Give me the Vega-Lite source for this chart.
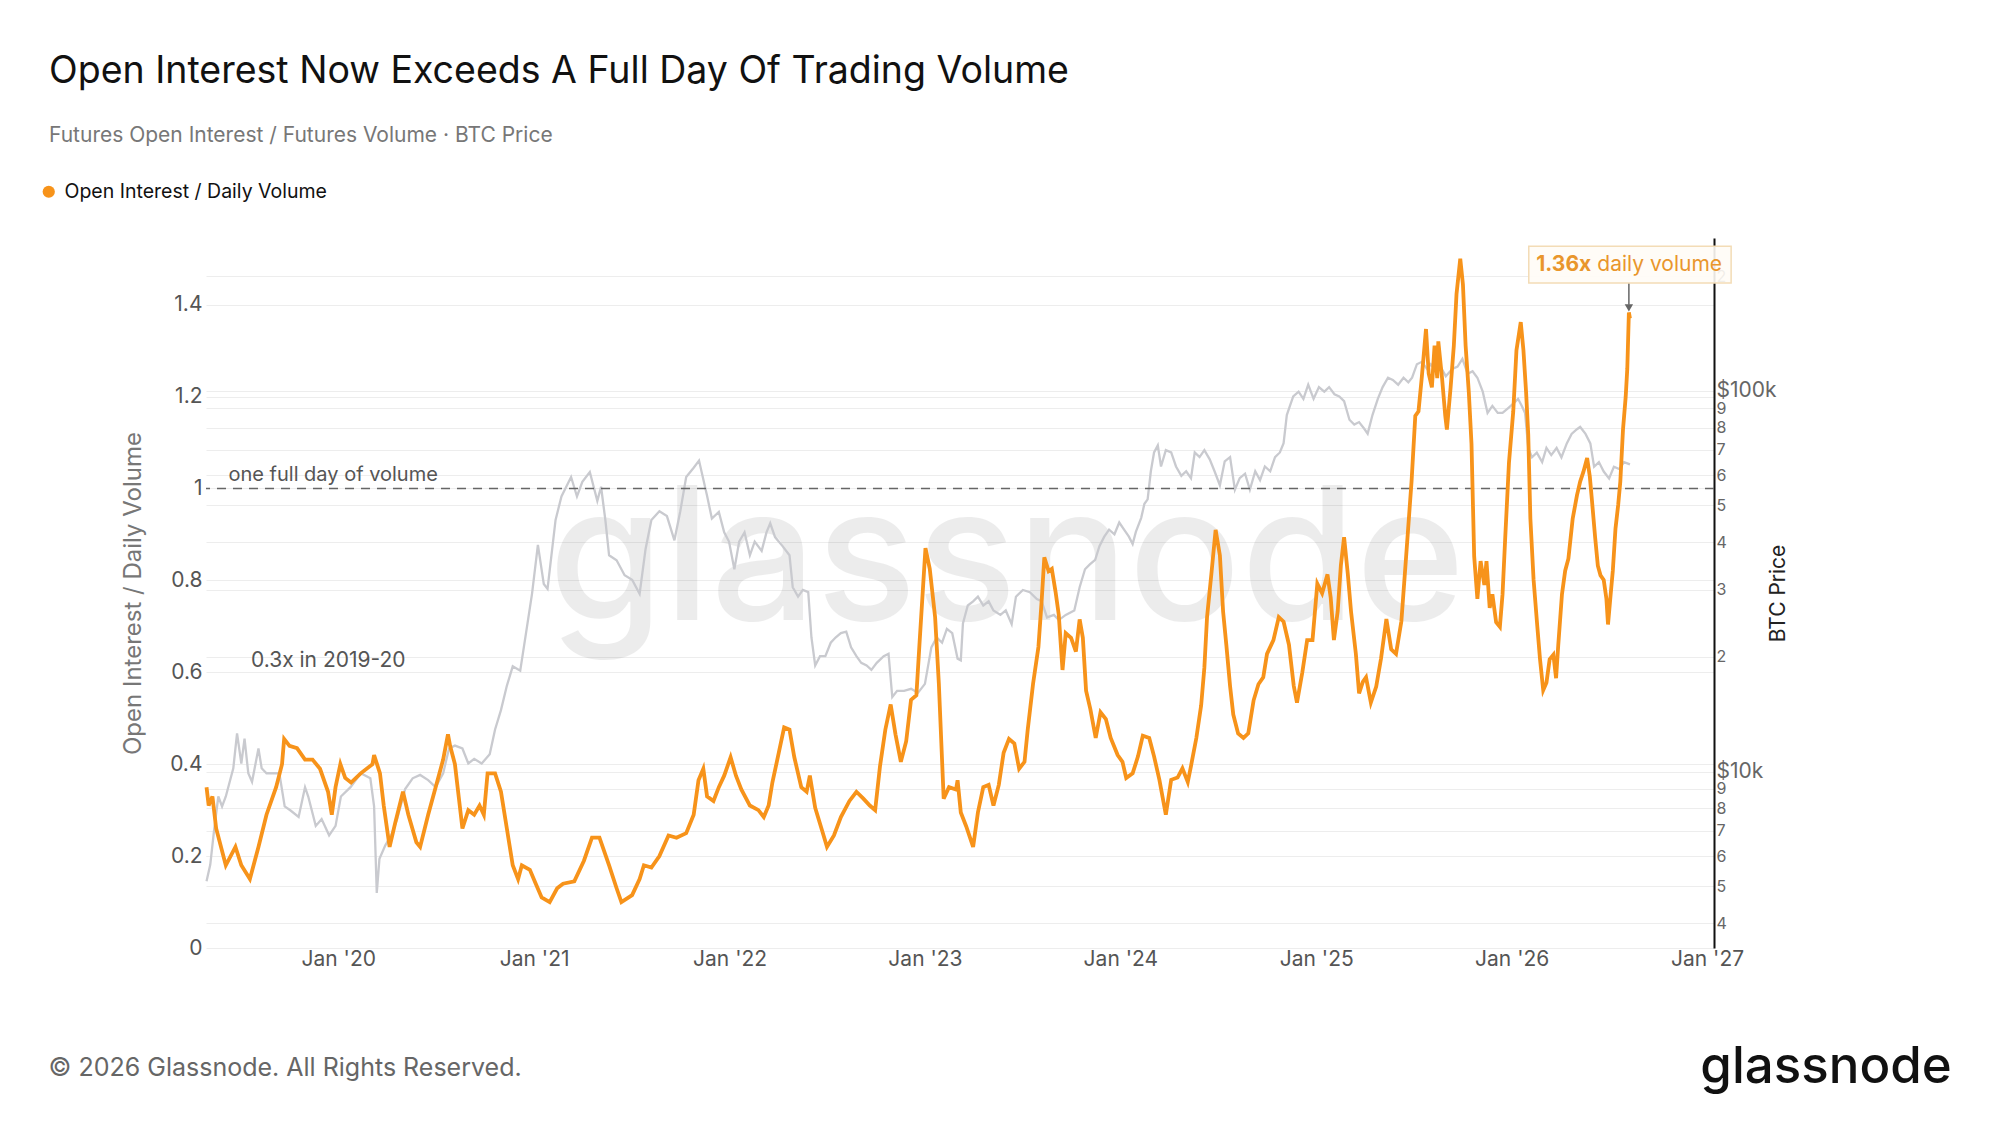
{
  "$schema": "https://vega.github.io/schema/vega-lite/v6.json",
  "width": 1508,
  "height": 710,
  "autosize": "none",
  "padding": {"left": 206, "top": 238, "right": 286, "bottom": 177},
  "background": "white",
  "title": {
    "text": "Open Interest Now Exceeds A Full Day Of Trading Volume",
    "subtitle": "Futures Open Interest / Futures Volume · BTC Price",
    "anchor": "start",
    "frame": "group",
    "dx": -157,
    "offset": 36,
    "font": "Inter",
    "fontSize": 37.5,
    "fontWeight": 400,
    "color": "#111111",
    "subtitleFont": "Inter",
    "subtitleFontSize": 21,
    "subtitleColor": "#777777",
    "subtitlePadding": 35
  },
  "datasets": {
    "oi": [
      {"date": "2019-04-30", "ratio": 0.35}, {"date": "2019-05-04", "ratio": 0.31}, {"date": "2019-05-11", "ratio": 0.33},
      {"date": "2019-05-18", "ratio": 0.26}, {"date": "2019-06-05", "ratio": 0.18}, {"date": "2019-06-23", "ratio": 0.22},
      {"date": "2019-07-04", "ratio": 0.18}, {"date": "2019-07-20", "ratio": 0.15}, {"date": "2019-08-05", "ratio": 0.22},
      {"date": "2019-08-20", "ratio": 0.29}, {"date": "2019-09-07", "ratio": 0.35}, {"date": "2019-09-18", "ratio": 0.40},
      {"date": "2019-09-22", "ratio": 0.455}, {"date": "2019-10-02", "ratio": 0.44}, {"date": "2019-10-16", "ratio": 0.435},
      {"date": "2019-10-31", "ratio": 0.41}, {"date": "2019-11-14", "ratio": 0.41}, {"date": "2019-11-28", "ratio": 0.39},
      {"date": "2019-12-13", "ratio": 0.34}, {"date": "2019-12-20", "ratio": 0.29}, {"date": "2019-12-27", "ratio": 0.35},
      {"date": "2020-01-05", "ratio": 0.40}, {"date": "2020-01-14", "ratio": 0.37}, {"date": "2020-01-25", "ratio": 0.36},
      {"date": "2020-02-12", "ratio": 0.38}, {"date": "2020-03-05", "ratio": 0.40}, {"date": "2020-03-08", "ratio": 0.42},
      {"date": "2020-03-19", "ratio": 0.38}, {"date": "2020-03-26", "ratio": 0.31}, {"date": "2020-04-06", "ratio": 0.22},
      {"date": "2020-04-16", "ratio": 0.27}, {"date": "2020-05-01", "ratio": 0.34}, {"date": "2020-05-11", "ratio": 0.29},
      {"date": "2020-05-26", "ratio": 0.23}, {"date": "2020-06-02", "ratio": 0.22}, {"date": "2020-06-17", "ratio": 0.29},
      {"date": "2020-07-01", "ratio": 0.35}, {"date": "2020-07-15", "ratio": 0.41}, {"date": "2020-07-24", "ratio": 0.465},
      {"date": "2020-07-28", "ratio": 0.44}, {"date": "2020-08-06", "ratio": 0.40}, {"date": "2020-08-13", "ratio": 0.33},
      {"date": "2020-08-20", "ratio": 0.26}, {"date": "2020-08-31", "ratio": 0.30}, {"date": "2020-09-11", "ratio": 0.29},
      {"date": "2020-09-21", "ratio": 0.31}, {"date": "2020-09-29", "ratio": 0.29}, {"date": "2020-10-06", "ratio": 0.38},
      {"date": "2020-10-20", "ratio": 0.38}, {"date": "2020-10-31", "ratio": 0.34}, {"date": "2020-11-11", "ratio": 0.26},
      {"date": "2020-11-22", "ratio": 0.18}, {"date": "2020-12-02", "ratio": 0.15}, {"date": "2020-12-09", "ratio": 0.18},
      {"date": "2020-12-24", "ratio": 0.17}, {"date": "2021-01-04", "ratio": 0.14}, {"date": "2021-01-15", "ratio": 0.11},
      {"date": "2021-01-30", "ratio": 0.10}, {"date": "2021-02-13", "ratio": 0.13}, {"date": "2021-02-24", "ratio": 0.14},
      {"date": "2021-03-17", "ratio": 0.145}, {"date": "2021-04-04", "ratio": 0.19}, {"date": "2021-04-19", "ratio": 0.24},
      {"date": "2021-05-03", "ratio": 0.24}, {"date": "2021-05-21", "ratio": 0.18}, {"date": "2021-06-04", "ratio": 0.13},
      {"date": "2021-06-13", "ratio": 0.10}, {"date": "2021-07-03", "ratio": 0.115}, {"date": "2021-07-17", "ratio": 0.15},
      {"date": "2021-07-25", "ratio": 0.18}, {"date": "2021-08-08", "ratio": 0.175}, {"date": "2021-08-23", "ratio": 0.20},
      {"date": "2021-09-09", "ratio": 0.245}, {"date": "2021-09-24", "ratio": 0.24}, {"date": "2021-10-12", "ratio": 0.25},
      {"date": "2021-10-26", "ratio": 0.29}, {"date": "2021-11-04", "ratio": 0.365}, {"date": "2021-11-13", "ratio": 0.39},
      {"date": "2021-11-20", "ratio": 0.33}, {"date": "2021-12-02", "ratio": 0.32}, {"date": "2021-12-12", "ratio": 0.35},
      {"date": "2021-12-22", "ratio": 0.375}, {"date": "2022-01-03", "ratio": 0.415}, {"date": "2022-01-13", "ratio": 0.375},
      {"date": "2022-01-23", "ratio": 0.345}, {"date": "2022-02-08", "ratio": 0.31}, {"date": "2022-02-24", "ratio": 0.30},
      {"date": "2022-03-06", "ratio": 0.285}, {"date": "2022-03-15", "ratio": 0.31}, {"date": "2022-03-22", "ratio": 0.36},
      {"date": "2022-04-03", "ratio": 0.425}, {"date": "2022-04-13", "ratio": 0.48}, {"date": "2022-04-23", "ratio": 0.475},
      {"date": "2022-05-02", "ratio": 0.415}, {"date": "2022-05-15", "ratio": 0.35}, {"date": "2022-05-25", "ratio": 0.34},
      {"date": "2022-05-31", "ratio": 0.375}, {"date": "2022-06-10", "ratio": 0.305}, {"date": "2022-06-23", "ratio": 0.255},
      {"date": "2022-07-02", "ratio": 0.22}, {"date": "2022-07-15", "ratio": 0.245}, {"date": "2022-07-28", "ratio": 0.285},
      {"date": "2022-08-13", "ratio": 0.32}, {"date": "2022-08-26", "ratio": 0.34}, {"date": "2022-09-08", "ratio": 0.325},
      {"date": "2022-09-20", "ratio": 0.31}, {"date": "2022-09-30", "ratio": 0.30}, {"date": "2022-10-09", "ratio": 0.395},
      {"date": "2022-10-19", "ratio": 0.475}, {"date": "2022-10-29", "ratio": 0.53}, {"date": "2022-11-07", "ratio": 0.465},
      {"date": "2022-11-17", "ratio": 0.405}, {"date": "2022-11-27", "ratio": 0.45}, {"date": "2022-12-06", "ratio": 0.54},
      {"date": "2022-12-16", "ratio": 0.55}, {"date": "2022-12-22", "ratio": 0.665}, {"date": "2023-01-02", "ratio": 0.87},
      {"date": "2023-01-10", "ratio": 0.825}, {"date": "2023-01-20", "ratio": 0.72}, {"date": "2023-01-27", "ratio": 0.575},
      {"date": "2023-02-05", "ratio": 0.325}, {"date": "2023-02-15", "ratio": 0.35}, {"date": "2023-02-28", "ratio": 0.345},
      {"date": "2023-03-03", "ratio": 0.365}, {"date": "2023-03-09", "ratio": 0.295}, {"date": "2023-03-19", "ratio": 0.265},
      {"date": "2023-04-01", "ratio": 0.22}, {"date": "2023-04-10", "ratio": 0.295}, {"date": "2023-04-20", "ratio": 0.35},
      {"date": "2023-04-30", "ratio": 0.355}, {"date": "2023-05-09", "ratio": 0.31}, {"date": "2023-05-19", "ratio": 0.355},
      {"date": "2023-05-28", "ratio": 0.425}, {"date": "2023-06-07", "ratio": 0.455}, {"date": "2023-06-17", "ratio": 0.445},
      {"date": "2023-06-26", "ratio": 0.39}, {"date": "2023-07-06", "ratio": 0.405}, {"date": "2023-07-12", "ratio": 0.475},
      {"date": "2023-07-22", "ratio": 0.575}, {"date": "2023-08-01", "ratio": 0.655}, {"date": "2023-08-07", "ratio": 0.755},
      {"date": "2023-08-12", "ratio": 0.85}, {"date": "2023-08-20", "ratio": 0.82}, {"date": "2023-08-26", "ratio": 0.825},
      {"date": "2023-09-02", "ratio": 0.775}, {"date": "2023-09-08", "ratio": 0.725}, {"date": "2023-09-15", "ratio": 0.605},
      {"date": "2023-09-21", "ratio": 0.685}, {"date": "2023-10-01", "ratio": 0.675}, {"date": "2023-10-10", "ratio": 0.645},
      {"date": "2023-10-17", "ratio": 0.715}, {"date": "2023-10-23", "ratio": 0.675}, {"date": "2023-10-29", "ratio": 0.56},
      {"date": "2023-11-06", "ratio": 0.52}, {"date": "2023-11-16", "ratio": 0.457}, {"date": "2023-11-25", "ratio": 0.513},
      {"date": "2023-12-05", "ratio": 0.498}, {"date": "2023-12-14", "ratio": 0.457}, {"date": "2023-12-27", "ratio": 0.42},
      {"date": "2024-01-05", "ratio": 0.405}, {"date": "2024-01-12", "ratio": 0.37}, {"date": "2024-01-24", "ratio": 0.38},
      {"date": "2024-02-03", "ratio": 0.417}, {"date": "2024-02-12", "ratio": 0.462}, {"date": "2024-02-24", "ratio": 0.457},
      {"date": "2024-03-04", "ratio": 0.417}, {"date": "2024-03-14", "ratio": 0.366}, {"date": "2024-03-26", "ratio": 0.29},
      {"date": "2024-04-05", "ratio": 0.366}, {"date": "2024-04-17", "ratio": 0.371}, {"date": "2024-04-26", "ratio": 0.391},
      {"date": "2024-05-06", "ratio": 0.361}, {"date": "2024-05-12", "ratio": 0.396}, {"date": "2024-05-22", "ratio": 0.457},
      {"date": "2024-05-31", "ratio": 0.528}, {"date": "2024-06-06", "ratio": 0.61}, {"date": "2024-06-11", "ratio": 0.72},
      {"date": "2024-06-19", "ratio": 0.813}, {"date": "2024-06-27", "ratio": 0.91}, {"date": "2024-07-05", "ratio": 0.854},
      {"date": "2024-07-11", "ratio": 0.732}, {"date": "2024-07-17", "ratio": 0.66}, {"date": "2024-07-24", "ratio": 0.57},
      {"date": "2024-07-30", "ratio": 0.508}, {"date": "2024-08-08", "ratio": 0.467}, {"date": "2024-08-18", "ratio": 0.457},
      {"date": "2024-08-27", "ratio": 0.467}, {"date": "2024-09-06", "ratio": 0.539}, {"date": "2024-09-15", "ratio": 0.574},
      {"date": "2024-09-24", "ratio": 0.589}, {"date": "2024-10-01", "ratio": 0.64}, {"date": "2024-10-13", "ratio": 0.67},
      {"date": "2024-10-23", "ratio": 0.72}, {"date": "2024-11-01", "ratio": 0.71}, {"date": "2024-11-11", "ratio": 0.66},
      {"date": "2024-11-20", "ratio": 0.57}, {"date": "2024-11-26", "ratio": 0.534}, {"date": "2024-12-06", "ratio": 0.60},
      {"date": "2024-12-15", "ratio": 0.67}, {"date": "2024-12-25", "ratio": 0.67}, {"date": "2025-01-03", "ratio": 0.793},
      {"date": "2025-01-12", "ratio": 0.772}, {"date": "2025-01-22", "ratio": 0.813}, {"date": "2025-01-28", "ratio": 0.762},
      {"date": "2025-02-03", "ratio": 0.67}, {"date": "2025-02-10", "ratio": 0.732}, {"date": "2025-02-16", "ratio": 0.833},
      {"date": "2025-02-22", "ratio": 0.894}, {"date": "2025-03-01", "ratio": 0.813}, {"date": "2025-03-07", "ratio": 0.732},
      {"date": "2025-03-16", "ratio": 0.64}, {"date": "2025-03-22", "ratio": 0.554}, {"date": "2025-03-29", "ratio": 0.579},
      {"date": "2025-04-04", "ratio": 0.589}, {"date": "2025-04-13", "ratio": 0.534}, {"date": "2025-04-23", "ratio": 0.569},
      {"date": "2025-05-02", "ratio": 0.63}, {"date": "2025-05-12", "ratio": 0.716}, {"date": "2025-05-21", "ratio": 0.65},
      {"date": "2025-05-30", "ratio": 0.64}, {"date": "2025-06-09", "ratio": 0.711}, {"date": "2025-06-18", "ratio": 0.854},
      {"date": "2025-06-28", "ratio": 1.015}, {"date": "2025-07-05", "ratio": 1.158}, {"date": "2025-07-11", "ratio": 1.168},
      {"date": "2025-07-17", "ratio": 1.24}, {"date": "2025-07-25", "ratio": 1.347}, {"date": "2025-07-30", "ratio": 1.25},
      {"date": "2025-08-05", "ratio": 1.22}, {"date": "2025-08-10", "ratio": 1.311}, {"date": "2025-08-15", "ratio": 1.24},
      {"date": "2025-08-17", "ratio": 1.32}, {"date": "2025-08-24", "ratio": 1.24}, {"date": "2025-08-30", "ratio": 1.158},
      {"date": "2025-09-02", "ratio": 1.128}, {"date": "2025-09-09", "ratio": 1.22}, {"date": "2025-09-15", "ratio": 1.311},
      {"date": "2025-09-20", "ratio": 1.423}, {"date": "2025-09-27", "ratio": 1.50}, {"date": "2025-10-02", "ratio": 1.444},
      {"date": "2025-10-07", "ratio": 1.311}, {"date": "2025-10-13", "ratio": 1.209}, {"date": "2025-10-18", "ratio": 1.097},
      {"date": "2025-10-23", "ratio": 0.852}, {"date": "2025-10-29", "ratio": 0.76}, {"date": "2025-11-04", "ratio": 0.842},
      {"date": "2025-11-11", "ratio": 0.79}, {"date": "2025-11-15", "ratio": 0.842}, {"date": "2025-11-21", "ratio": 0.74},
      {"date": "2025-11-26", "ratio": 0.77}, {"date": "2025-12-03", "ratio": 0.709}, {"date": "2025-12-10", "ratio": 0.699},
      {"date": "2025-12-15", "ratio": 0.77}, {"date": "2025-12-20", "ratio": 0.893}, {"date": "2025-12-27", "ratio": 1.056},
      {"date": "2026-01-04", "ratio": 1.168}, {"date": "2026-01-10", "ratio": 1.301}, {"date": "2026-01-18", "ratio": 1.362},
      {"date": "2026-01-23", "ratio": 1.301}, {"date": "2026-01-28", "ratio": 1.209}, {"date": "2026-02-01", "ratio": 1.117},
      {"date": "2026-02-05", "ratio": 0.934}, {"date": "2026-02-11", "ratio": 0.801}, {"date": "2026-02-18", "ratio": 0.699},
      {"date": "2026-02-23", "ratio": 0.628}, {"date": "2026-03-01", "ratio": 0.561}, {"date": "2026-03-07", "ratio": 0.577},
      {"date": "2026-03-13", "ratio": 0.628}, {"date": "2026-03-20", "ratio": 0.638}, {"date": "2026-03-25", "ratio": 0.587},
      {"date": "2026-03-29", "ratio": 0.658}, {"date": "2026-04-05", "ratio": 0.77}, {"date": "2026-04-11", "ratio": 0.821},
      {"date": "2026-04-17", "ratio": 0.847}, {"date": "2026-04-25", "ratio": 0.934}, {"date": "2026-05-03", "ratio": 0.985},
      {"date": "2026-05-09", "ratio": 1.015}, {"date": "2026-05-15", "ratio": 1.036}, {"date": "2026-05-22", "ratio": 1.066},
      {"date": "2026-05-27", "ratio": 1.026}, {"date": "2026-05-31", "ratio": 0.974}, {"date": "2026-06-06", "ratio": 0.893},
      {"date": "2026-06-11", "ratio": 0.832}, {"date": "2026-06-16", "ratio": 0.811}, {"date": "2026-06-22", "ratio": 0.801},
      {"date": "2026-06-27", "ratio": 0.76}, {"date": "2026-06-30", "ratio": 0.704}, {"date": "2026-07-05", "ratio": 0.77},
      {"date": "2026-07-09", "ratio": 0.821}, {"date": "2026-07-14", "ratio": 0.913}, {"date": "2026-07-19", "ratio": 0.964},
      {"date": "2026-07-23", "ratio": 1.015}, {"date": "2026-07-28", "ratio": 1.128}, {"date": "2026-08-02", "ratio": 1.199},
      {"date": "2026-08-05", "ratio": 1.26}, {"date": "2026-08-08", "ratio": 1.383}, {"date": "2026-08-10", "ratio": 1.37}
    ],
    "btc": [
      {"date": "2019-04-30", "price": 5150}, {"date": "2019-05-07", "price": 5700}, {"date": "2019-05-14", "price": 7000},
      {"date": "2019-05-22", "price": 8600}, {"date": "2019-05-29", "price": 8100}, {"date": "2019-06-05", "price": 8600},
      {"date": "2019-06-19", "price": 10200}, {"date": "2019-06-26", "price": 12600}, {"date": "2019-07-04", "price": 10500},
      {"date": "2019-07-10", "price": 12200}, {"date": "2019-07-17", "price": 9900}, {"date": "2019-07-24", "price": 9400},
      {"date": "2019-08-05", "price": 11500}, {"date": "2019-08-11", "price": 10200}, {"date": "2019-08-20", "price": 9900},
      {"date": "2019-09-02", "price": 9900}, {"date": "2019-09-13", "price": 9900}, {"date": "2019-09-23", "price": 8100},
      {"date": "2019-10-04", "price": 7900}, {"date": "2019-10-19", "price": 7600}, {"date": "2019-10-31", "price": 9100},
      {"date": "2019-11-06", "price": 8600}, {"date": "2019-11-20", "price": 7200}, {"date": "2019-12-01", "price": 7500},
      {"date": "2019-12-15", "price": 6800}, {"date": "2019-12-27", "price": 7200}, {"date": "2020-01-06", "price": 8600},
      {"date": "2020-01-24", "price": 9100}, {"date": "2020-02-12", "price": 9900}, {"date": "2020-03-01", "price": 9600},
      {"date": "2020-03-08", "price": 8100}, {"date": "2020-03-13", "price": 4800}, {"date": "2020-03-18", "price": 5900},
      {"date": "2020-03-29", "price": 6400}, {"date": "2020-04-09", "price": 6800}, {"date": "2020-04-20", "price": 7500},
      {"date": "2020-05-05", "price": 9000}, {"date": "2020-05-19", "price": 9600}, {"date": "2020-06-02", "price": 9800},
      {"date": "2020-06-17", "price": 9500}, {"date": "2020-07-01", "price": 9100}, {"date": "2020-07-15", "price": 9900},
      {"date": "2020-07-26", "price": 11500}, {"date": "2020-08-06", "price": 11700}, {"date": "2020-08-20", "price": 11500},
      {"date": "2020-08-31", "price": 10500}, {"date": "2020-09-11", "price": 10800}, {"date": "2020-09-25", "price": 10500},
      {"date": "2020-10-10", "price": 11100}, {"date": "2020-10-20", "price": 12900}, {"date": "2020-10-31", "price": 14500},
      {"date": "2020-11-11", "price": 16800}, {"date": "2020-11-22", "price": 18900}, {"date": "2020-12-06", "price": 18400},
      {"date": "2020-12-17", "price": 23200}, {"date": "2020-12-28", "price": 29300}, {"date": "2021-01-08", "price": 39400},
      {"date": "2021-01-19", "price": 31100}, {"date": "2021-01-26", "price": 30200}, {"date": "2021-02-10", "price": 45800},
      {"date": "2021-02-21", "price": 52800}, {"date": "2021-03-11", "price": 59400}, {"date": "2021-03-22", "price": 52800},
      {"date": "2021-04-01", "price": 57700}, {"date": "2021-04-15", "price": 61200}, {"date": "2021-04-29", "price": 51400},
      {"date": "2021-05-06", "price": 56000}, {"date": "2021-05-14", "price": 45800}, {"date": "2021-05-21", "price": 37000},
      {"date": "2021-06-04", "price": 35900}, {"date": "2021-06-19", "price": 32800}, {"date": "2021-07-03", "price": 31900},
      {"date": "2021-07-17", "price": 29300}, {"date": "2021-07-28", "price": 38300}, {"date": "2021-08-08", "price": 45800},
      {"date": "2021-08-23", "price": 48300}, {"date": "2021-09-06", "price": 46900}, {"date": "2021-09-20", "price": 40500},
      {"date": "2021-10-01", "price": 48300}, {"date": "2021-10-12", "price": 59400}, {"date": "2021-10-26", "price": 62800},
      {"date": "2021-11-05", "price": 65600}, {"date": "2021-11-20", "price": 53000}, {"date": "2021-11-29", "price": 46200},
      {"date": "2021-12-12", "price": 48100}, {"date": "2021-12-22", "price": 42500}, {"date": "2021-12-31", "price": 40200},
      {"date": "2022-01-10", "price": 34000}, {"date": "2022-01-19", "price": 40200}, {"date": "2022-01-29", "price": 42500},
      {"date": "2022-02-08", "price": 37000}, {"date": "2022-02-17", "price": 40200}, {"date": "2022-03-02", "price": 38000},
      {"date": "2022-03-11", "price": 42500}, {"date": "2022-03-18", "price": 44900}, {"date": "2022-03-27", "price": 41300},
      {"date": "2022-04-10", "price": 39100}, {"date": "2022-04-23", "price": 37000}, {"date": "2022-04-29", "price": 30500},
      {"date": "2022-05-09", "price": 28800}, {"date": "2022-05-18", "price": 30000}, {"date": "2022-05-28", "price": 29600},
      {"date": "2022-06-03", "price": 22500}, {"date": "2022-06-10", "price": 19000}, {"date": "2022-06-19", "price": 20100},
      {"date": "2022-06-29", "price": 20100}, {"date": "2022-07-09", "price": 21800}, {"date": "2022-07-18", "price": 22500},
      {"date": "2022-07-28", "price": 23100}, {"date": "2022-08-07", "price": 23300}, {"date": "2022-08-16", "price": 21200},
      {"date": "2022-08-26", "price": 20100}, {"date": "2022-09-04", "price": 19300}, {"date": "2022-09-14", "price": 19000},
      {"date": "2022-09-23", "price": 18500}, {"date": "2022-10-03", "price": 19300}, {"date": "2022-10-16", "price": 20100},
      {"date": "2022-10-25", "price": 20400}, {"date": "2022-11-01", "price": 15700}, {"date": "2022-11-10", "price": 16300},
      {"date": "2022-11-23", "price": 16300}, {"date": "2022-12-06", "price": 16500}, {"date": "2022-12-19", "price": 16100},
      {"date": "2023-01-01", "price": 17000}, {"date": "2023-01-13", "price": 21200}, {"date": "2023-01-23", "price": 22500},
      {"date": "2023-02-02", "price": 21800}, {"date": "2023-02-11", "price": 23700}, {"date": "2023-02-21", "price": 23100},
      {"date": "2023-03-03", "price": 19800}, {"date": "2023-03-09", "price": 19600}, {"date": "2023-03-13", "price": 24500},
      {"date": "2023-03-22", "price": 27300}, {"date": "2023-04-01", "price": 28000}, {"date": "2023-04-10", "price": 28800},
      {"date": "2023-04-20", "price": 27300}, {"date": "2023-04-30", "price": 28000}, {"date": "2023-05-09", "price": 26500},
      {"date": "2023-05-22", "price": 25800}, {"date": "2023-06-01", "price": 26500}, {"date": "2023-06-12", "price": 24400},
      {"date": "2023-06-20", "price": 28800}, {"date": "2023-07-03", "price": 30000}, {"date": "2023-07-16", "price": 29600},
      {"date": "2023-07-29", "price": 28400}, {"date": "2023-08-07", "price": 28000}, {"date": "2023-08-17", "price": 25400},
      {"date": "2023-08-30", "price": 25800}, {"date": "2023-09-08", "price": 25000}, {"date": "2023-09-21", "price": 25800},
      {"date": "2023-10-07", "price": 26500}, {"date": "2023-10-17", "price": 30500}, {"date": "2023-10-27", "price": 34000},
      {"date": "2023-11-05", "price": 35000}, {"date": "2023-11-15", "price": 36000}, {"date": "2023-11-23", "price": 39100},
      {"date": "2023-12-02", "price": 41400}, {"date": "2023-12-11", "price": 43200}, {"date": "2023-12-21", "price": 42000},
      {"date": "2023-12-30", "price": 45100}, {"date": "2024-01-08", "price": 43200}, {"date": "2024-01-17", "price": 41400},
      {"date": "2024-01-24", "price": 39600}, {"date": "2024-01-30", "price": 42600}, {"date": "2024-02-09", "price": 46400},
      {"date": "2024-02-15", "price": 50500}, {"date": "2024-02-21", "price": 51900}, {"date": "2024-02-27", "price": 61500},
      {"date": "2024-03-04", "price": 68900}, {"date": "2024-03-11", "price": 71900}, {"date": "2024-03-17", "price": 63300},
      {"date": "2024-03-26", "price": 69900}, {"date": "2024-04-05", "price": 68900}, {"date": "2024-04-14", "price": 63300},
      {"date": "2024-04-24", "price": 59800}, {"date": "2024-05-03", "price": 61500}, {"date": "2024-05-12", "price": 59000},
      {"date": "2024-05-19", "price": 68900}, {"date": "2024-05-28", "price": 67000}, {"date": "2024-06-06", "price": 69900},
      {"date": "2024-06-16", "price": 66100}, {"date": "2024-06-25", "price": 61500}, {"date": "2024-07-05", "price": 56500},
      {"date": "2024-07-14", "price": 65300}, {"date": "2024-07-24", "price": 67000}, {"date": "2024-08-02", "price": 55000},
      {"date": "2024-08-11", "price": 59000}, {"date": "2024-08-21", "price": 60600}, {"date": "2024-08-30", "price": 55000},
      {"date": "2024-09-09", "price": 61500}, {"date": "2024-09-18", "price": 58300}, {"date": "2024-09-27", "price": 63300},
      {"date": "2024-10-07", "price": 61500}, {"date": "2024-10-16", "price": 67000}, {"date": "2024-10-25", "price": 68900},
      {"date": "2024-11-01", "price": 72900}, {"date": "2024-11-07", "price": 86400}, {"date": "2024-11-13", "price": 91400},
      {"date": "2024-11-19", "price": 96700}, {"date": "2024-11-29", "price": 99500}, {"date": "2024-12-08", "price": 95300},
      {"date": "2024-12-17", "price": 103800}, {"date": "2024-12-27", "price": 95300}, {"date": "2025-01-06", "price": 102300},
      {"date": "2025-01-16", "price": 99500}, {"date": "2025-01-25", "price": 102300}, {"date": "2025-02-04", "price": 98000},
      {"date": "2025-02-13", "price": 96700}, {"date": "2025-02-22", "price": 94000}, {"date": "2025-03-04", "price": 84000},
      {"date": "2025-03-13", "price": 81600}, {"date": "2025-03-22", "price": 82800}, {"date": "2025-04-01", "price": 79400},
      {"date": "2025-04-07", "price": 77200}, {"date": "2025-04-16", "price": 86400}, {"date": "2025-04-26", "price": 95300},
      {"date": "2025-05-05", "price": 102300}, {"date": "2025-05-15", "price": 108300}, {"date": "2025-05-24", "price": 106800},
      {"date": "2025-06-03", "price": 103800}, {"date": "2025-06-13", "price": 108300}, {"date": "2025-06-22", "price": 105300},
      {"date": "2025-06-29", "price": 108300}, {"date": "2025-07-08", "price": 117500}, {"date": "2025-07-17", "price": 119200},
      {"date": "2025-07-27", "price": 114200}, {"date": "2025-08-03", "price": 117500}, {"date": "2025-08-12", "price": 112600},
      {"date": "2025-08-21", "price": 115800}, {"date": "2025-08-31", "price": 109300}, {"date": "2025-09-12", "price": 114200},
      {"date": "2025-09-22", "price": 115800}, {"date": "2025-10-01", "price": 121400}, {"date": "2025-10-11", "price": 110900},
      {"date": "2025-10-20", "price": 112600}, {"date": "2025-10-29", "price": 108300}, {"date": "2025-11-08", "price": 99500},
      {"date": "2025-11-17", "price": 87500}, {"date": "2025-11-26", "price": 91300}, {"date": "2025-12-06", "price": 87500},
      {"date": "2025-12-15", "price": 87500}, {"date": "2025-12-25", "price": 90000}, {"date": "2026-01-04", "price": 92600},
      {"date": "2026-01-13", "price": 95300}, {"date": "2026-01-20", "price": 91300}, {"date": "2026-01-26", "price": 87500},
      {"date": "2026-02-01", "price": 70800}, {"date": "2026-02-08", "price": 66900}, {"date": "2026-02-17", "price": 68800},
      {"date": "2026-02-27", "price": 65000}, {"date": "2026-03-07", "price": 70800}, {"date": "2026-03-16", "price": 67800},
      {"date": "2026-03-26", "price": 70800}, {"date": "2026-04-04", "price": 66900}, {"date": "2026-04-14", "price": 72800},
      {"date": "2026-04-23", "price": 77100}, {"date": "2026-05-03", "price": 79300}, {"date": "2026-05-09", "price": 80400},
      {"date": "2026-05-19", "price": 77100}, {"date": "2026-05-28", "price": 72800}, {"date": "2026-06-04", "price": 63200},
      {"date": "2026-06-13", "price": 65000}, {"date": "2026-06-22", "price": 61400}, {"date": "2026-07-02", "price": 58900},
      {"date": "2026-07-11", "price": 63200}, {"date": "2026-07-21", "price": 62300}, {"date": "2026-07-30", "price": 65000},
      {"date": "2026-08-10", "price": 64100}
    ]
  },
  "layer": [
    {
      "layer": [
        {
          "data": {"values": [{"label": "glassnode"}]},
          "mark": {"type": "text", "font": "Inter", "fontSize": 186, "fontWeight": 500, "color": "#000000", "opacity": 0.07, "align": "center", "baseline": "alphabetic"},
          "encoding": {
            "x": {"datum": {"year": 2023, "month": 6, "date": 3, "utc": true}, "type": "temporal"},
            "y": {"datum": 25000, "type": "quantitative"},
            "text": {"field": "label"}
          }
        },
        {
          "data": {"name": "btc"},
          "mark": {"type": "line", "color": "#c9cacf", "strokeWidth": 2.3},
          "encoding": {
            "x": {"field": "date", "type": "temporal"},
            "y": {
              "field": "price",
              "type": "quantitative",
              "scale": {"type": "log", "domain": [3440, 252100], "nice": false},
              "axis": {
                "orient": "right",
                "values": [4000, 5000, 6000, 7000, 8000, 9000, 10000, 20000, 30000, 40000, 50000, 60000, 70000, 80000, 90000, 100000, 200000],
                "labelExpr": "datum.value == 10000 ? '$10k' : datum.value == 100000 ? '$100k' : format(datum.value / pow(10, floor(log(datum.value) / LN10 + 0.000001)), 'd')",
                "labelAlign": "left",
                "labelBaseline": "middle",
                "labelOverlap": false,
                "labelBound": false,
                "labelPadding": 2,
                "labelFontSize": {"condition": {"test": "datum.value == 10000 || datum.value == 100000", "value": 21}, "value": 16},
                "labelColor": "#666666",
                "grid": true,
                "gridColor": "#ededed",
                "gridWidth": 1,
                "ticks": false,
                "domain": true,
                "domainColor": "#111111",
                "domainWidth": 2,
                "title": "BTC Price",
                "titleAngle": 270,
                "titleFontSize": 21,
                "titleFontWeight": 400,
                "titleColor": "#222222",
                "titlePadding": 12
              }
            }
          }
        }
      ]
    },
    {
      "layer": [
        {
          "data": {"values": [{}]},
          "mark": {"type": "rule", "color": "#666666", "strokeWidth": 1.5, "strokeDash": [9, 7]},
          "encoding": {"y": {"datum": 1, "type": "quantitative"}}
        },
        {
          "data": {"name": "oi"},
          "mark": {"type": "line", "strokeWidth": 3.8},
          "encoding": {
            "x": {
              "field": "date",
              "type": "temporal",
              "scale": {"type": "utc", "nice": false, "domain": [{"year": 2019, "month": 4, "date": 29, "utc": true}, {"year": 2027, "month": 1, "date": 14, "utc": true}]},
              "axis": {
                "values": [
                  {"year": 2020, "month": 1, "date": 1, "utc": true}, {"year": 2021, "month": 1, "date": 1, "utc": true},
                  {"year": 2022, "month": 1, "date": 1, "utc": true}, {"year": 2023, "month": 1, "date": 1, "utc": true},
                  {"year": 2024, "month": 1, "date": 1, "utc": true}, {"year": 2025, "month": 1, "date": 1, "utc": true},
                  {"year": 2026, "month": 1, "date": 1, "utc": true}, {"year": 2027, "month": 1, "date": 1, "utc": true}
                ],
                "format": "%b '%y",
                "grid": false,
                "domain": false,
                "ticks": false,
                "labelFontSize": 21,
                "labelColor": "#555555",
                "labelPadding": 0,
                "title": null
              }
            },
            "y": {
              "field": "ratio",
              "type": "quantitative",
              "scale": {"domain": [0, 1.545], "nice": false, "zero": false},
              "axis": {
                "orient": "left",
                "values": [0, 0.2, 0.4, 0.6, 0.8, 1, 1.2, 1.4],
                "format": "~g",
                "grid": true,
                "gridColor": "#ededed",
                "domain": false,
                "ticks": false,
                "labelFontSize": 21,
                "labelColor": "#555555",
                "labelPadding": 4,
                "title": "Open Interest / Daily Volume",
                "titleFontSize": 24,
                "titleFontWeight": 400,
                "titleColor": "#777777",
                "titlePadding": 24
              }
            },
            "color": {
              "datum": "Open Interest / Daily Volume",
              "scale": {"range": ["#F7931A"]},
              "legend": {
                "orient": "none",
                "legendX": -167,
                "legendY": -56,
                "title": null,
                "padding": 0,
                "symbolType": "circle",
                "symbolSize": 150,
                "symbolFillColor": "#F7931A",
                "symbolStrokeWidth": 0,
                "labelFont": "Inter",
                "labelFontSize": 19.5,
                "labelColor": "#111111",
                "labelOffset": 6,
                "labelLimit": 0,
                "encode": {"symbols": {"update": {"fill": {"value": "#F7931A"}, "strokeWidth": {"value": 0}}}}
              }
            }
          }
        },
        {
          "data": {"values": [{"label": "one full day of volume"}]},
          "mark": {"type": "text", "font": "Inter", "fontSize": 20, "color": "#555555", "align": "left", "baseline": "middle"},
          "encoding": {
            "x": {"datum": {"year": 2019, "month": 6, "date": 10, "utc": true}, "type": "temporal"},
            "y": {"datum": 1.03, "type": "quantitative"},
            "text": {"field": "label"}
          }
        },
        {
          "data": {"values": [{"label": "0.3x in 2019-20"}]},
          "mark": {"type": "text", "font": "Inter", "fontSize": 21, "color": "#555555", "align": "left", "baseline": "middle"},
          "encoding": {
            "x": {"datum": {"year": 2019, "month": 7, "date": 22, "utc": true}, "type": "temporal"},
            "y": {"datum": 0.625, "type": "quantitative"},
            "text": {"field": "label"}
          }
        },
        {
          "data": {"values": [{}]},
          "mark": {"type": "rule", "color": "#666666", "strokeWidth": 1.5},
          "encoding": {
            "x": {"datum": {"year": 2026, "month": 8, "date": 8, "utc": true}, "type": "temporal"},
            "y": {"datum": 1.447, "type": "quantitative"},
            "y2": {"datum": 1.40}
          }
        },
        {
          "data": {"values": [{}]},
          "mark": {"type": "point", "shape": "triangle-down", "filled": true, "color": "#666666", "size": 70, "opacity": 1},
          "encoding": {
            "x": {"datum": {"year": 2026, "month": 8, "date": 8, "utc": true}, "type": "temporal"},
            "y": {"datum": 1.393, "type": "quantitative"}
          }
        },
        {
          "data": {"values": [{}]},
          "mark": {"type": "rect", "fill": "#fffcf6", "fillOpacity": 0.9, "stroke": "#f3dcb6", "strokeWidth": 1.5},
          "encoding": {
            "x": {"datum": {"year": 2026, "month": 2, "date": 2, "utc": true}, "type": "temporal"},
            "x2": {"datum": {"year": 2027, "month": 2, "date": 15, "utc": true}},
            "y": {"datum": 1.527, "type": "quantitative"},
            "y2": {"datum": 1.447}
          }
        },
        {
          "data": {"values": [{"label": "1.36x"}]},
          "mark": {"type": "text", "font": "Inter", "fontSize": 21, "fontWeight": 700, "color": "#E9962C", "align": "left", "baseline": "middle"},
          "encoding": {
            "x": {"datum": {"year": 2026, "month": 2, "date": 16, "utc": true}, "type": "temporal"},
            "y": {"datum": 1.487, "type": "quantitative"},
            "text": {"field": "label"}
          }
        },
        {
          "data": {"values": [{"label": "daily volume"}]},
          "mark": {"type": "text", "font": "Inter", "fontSize": 21, "fontWeight": 400, "color": "#E9962C", "align": "left", "baseline": "middle"},
          "encoding": {
            "x": {"datum": {"year": 2026, "month": 6, "date": 10, "utc": true}, "type": "temporal"},
            "y": {"datum": 1.487, "type": "quantitative"},
            "text": {"field": "label"}
          }
        },
        {
          "data": {"values": [{"label": "© 2026 Glassnode. All Rights Reserved."}]},
          "mark": {"type": "text", "font": "Inter", "fontSize": 25, "color": "#666666", "align": "left", "baseline": "middle"},
          "encoding": {
            "x": {"datum": {"year": 2018, "month": 7, "date": 9, "utc": true}, "type": "temporal"},
            "y": {"datum": -0.261, "type": "quantitative"},
            "text": {"field": "label"}
          }
        },
        {
          "data": {"values": [{"label": "glassnode"}]},
          "mark": {"type": "text", "font": "Inter", "fontSize": 51, "fontWeight": 500, "color": "#111111", "align": "right", "baseline": "middle"},
          "encoding": {
            "x": {"datum": {"year": 2028, "month": 4, "date": 2, "utc": true}, "type": "temporal"},
            "y": {"datum": -0.262, "type": "quantitative"},
            "text": {"field": "label"}
          }
        }
      ]
    }
  ],
  "resolve": {"scale": {"y": "independent"}},
  "config": {
    "font": "Inter",
    "view": {"stroke": null},
    "axis": {"labelFont": "Inter", "titleFont": "Inter"}
  }
}
